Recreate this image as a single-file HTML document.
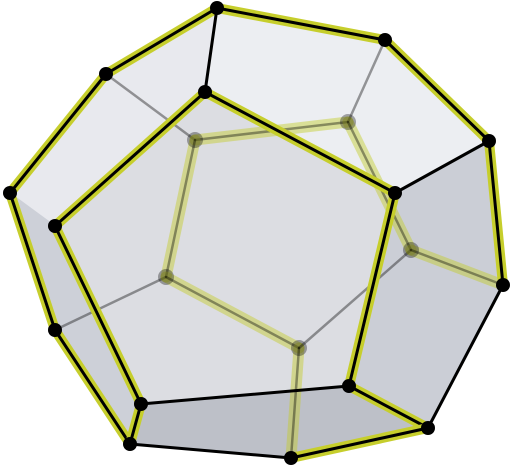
<!DOCTYPE html>
<html><head><meta charset="utf-8"><style>
html,body{margin:0;padding:0;background:#fff;width:512px;height:468px;overflow:hidden}
svg{display:block}
</style></head><body>
<svg id="chart" width="512" height="468" viewBox="0 0 512 468" xmlns="http://www.w3.org/2000/svg">
<g id="faces"></g><g id="back"></g><g id="front"></g><g id="dots"></g>
</svg>
<script>
const vertexNames = ["A","B","C","D","E","F","G","H","I","J","K","L","M","N","P","Q","R","S","T","X"];
const vertexX = [217,385,106,205,489,10,395,55,55,349,141,428,130,291,195,348,411,166,299,503];
const vertexY = [8,40,74,92,141,193,193,226,330,386,404,428,444,458,140,122,250,277,348,285];
const backVertices = ["P","Q","R","S","T"];
const cycle = ["A","B","E","X","R","Q","P","S","T","N","L","J","G","D","H","K","M","I","F","C"];
const edges = [["A","B"],["B","E"],["A","C"],["A","D"],["C","F"],["D","G"],["D","H"],["G","E"],["G","J"],["F","I"],["I","M"],["H","K"],["K","M"],["K","J"],["J","L"],["L","N"],["N","M"],["E","X"],["X","L"],
["C","P"],["P","Q"],["Q","B"],["Q","R"],["P","S"],["S","I"],["S","T"],["T","N"],["T","R"],["R","X"]];
const frontFaces = [["A","D","G","E","B"],["A","C","F","H","D"],["D","H","K","J","G"],["F","I","M","K","H"],["K","M","N","L","J"],["G","J","L","X","E"]];
const faceColors = ["#eceef2","#e8e9ee","#dcdde2","#cdd0d8","#bdc0c8","#cbced6"];
const NS="http://www.w3.org/2000/svg";
const P=n=>{const i=vertexNames.indexOf(n);return [vertexX[i],vertexY[i]];};
const isBack=n=>backVertices.includes(n);
const inCycle=(a,b)=>{for(let i=0;i<cycle.length;i++){const c=cycle[i],d=cycle[(i+1)%cycle.length];if((c===a&&d===b)||(c===b&&d===a))return true;}return false;};
function mk(tag,attrs,parent){const e=document.createElementNS(NS,tag);for(const k in attrs)e.setAttribute(k,attrs[k]);document.getElementById(parent).appendChild(e);return e;}
frontFaces.forEach((f,i)=>{const e=mk('polygon',{points:f.map(n=>P(n).join(',')).join(' '),fill:faceColors[i],stroke:faceColors[i],'stroke-width':1},'faces');

});
edges.forEach(([a,b])=>{const [x1,y1]=P(a),[x2,y2]=P(b);const back=isBack(a)||isBack(b);const hc=inCycle(a,b);
if(hc){const h=mk('line',{x1,y1,x2,y2,stroke:back?'rgba(195,205,40,0.45)':'#c6ce2c','stroke-width':back?11:10,'stroke-linecap':'round'},back?'back':'front');

}
const l=mk('line',{x1,y1,x2,y2,stroke:back?'rgba(0,0,0,0.38)':'#000','stroke-width':back?2.5:3,'stroke-linecap':'round'},back?'back':'front');

});
vertexNames.forEach(n=>{const [x,y]=P(n);const back=isBack(n);
const c=mk('circle',{cx:x,cy:y,r:back?8:7,fill:back?'rgba(0,0,0,0.33)':'#000'},'dots');

});
</script>
</body></html>
